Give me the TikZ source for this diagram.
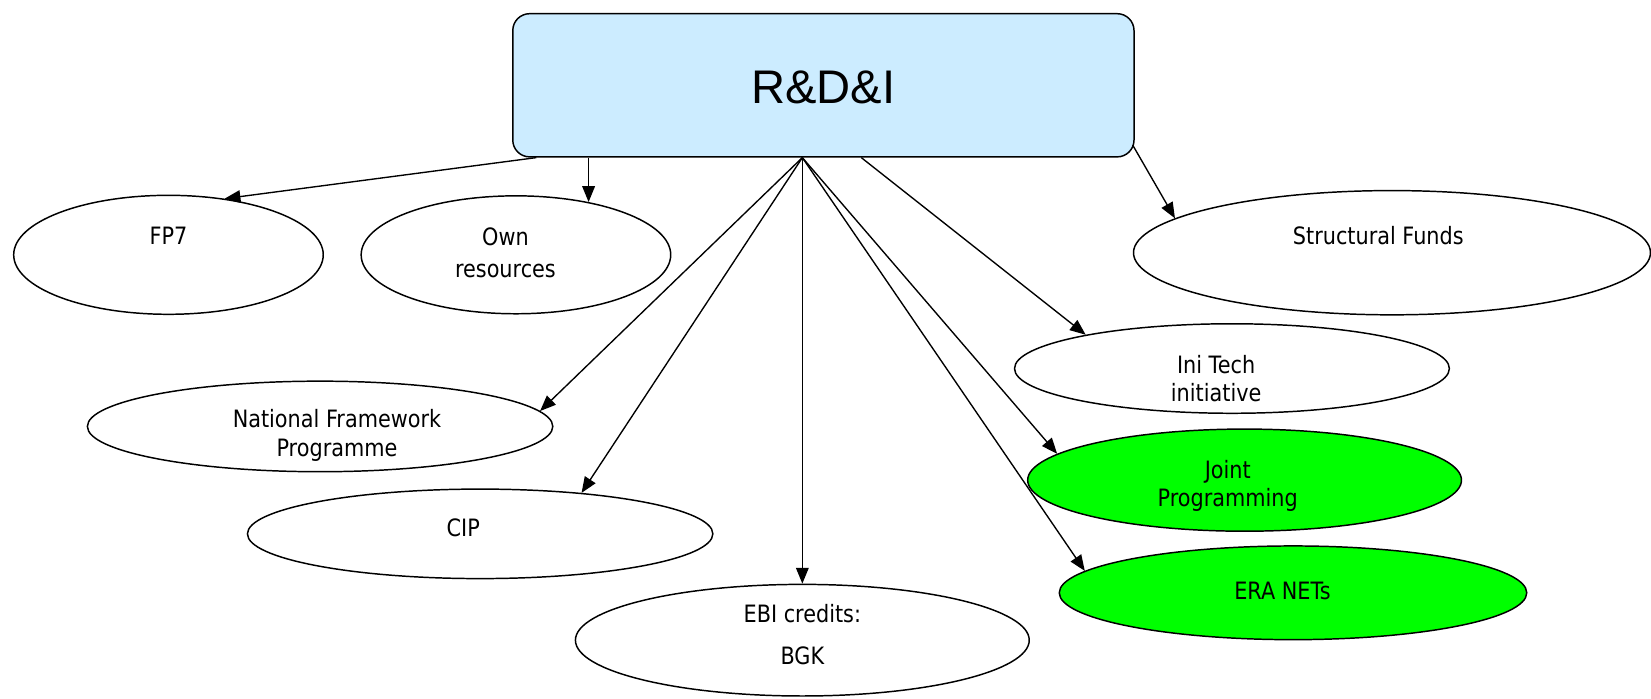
\documentclass[tikz,border=0pt]{standalone}
\usepackage{fontspec}
\usetikzlibrary{shapes.geometric,arrows.meta,calc}
\newfontfamily\tah{DejaVu Sans}[FakeStretch=0.87]
\newfontfamily\arl{Liberation Sans}
\definecolor{boxblue}{HTML}{CCECFF}
\definecolor{brightgreen}{HTML}{00FF00}
\begin{document}
\begin{tikzpicture}[x=1pt,y=-1pt,
  oval/.style={ellipse,draw=black,line width=1.4pt,inner sep=0pt,fill=white},
  greenoval/.style={oval,fill=brightgreen},
  lbl/.style={font=\tah\fontsize{22.7}{27}\selectfont,align=center,inner sep=0pt},
  arr/.style={-{Triangle[length=15pt,width=12pt]},line width=1.3pt}]
\useasboundingbox (0,0) rectangle (1568,663);
% main box
\node[draw,line width=1.4pt,rounded corners=16pt,fill=boxblue,minimum width=590pt,minimum height=136pt,inner sep=0pt] (rdi) at (782,81) {};
\node[font=\arl\fontsize{44.8}{50}\selectfont,inner sep=0pt] (rdit) at (782,83) {R\&D\&I};
% ellipses
\node[oval,minimum width=294pt,minimum height=113pt] (fp7) at (160,242) {};
\node[oval,minimum width=294pt,minimum height=112pt] (own) at (490,242) {};
\node[oval,minimum width=491pt,minimum height=118pt] (sf) at (1322,240) {};
\node[oval,minimum width=413pt,minimum height=85pt] (ini) at (1170,350) {};
\node[oval,minimum width=442pt,minimum height=86pt] (nfp) at (304,405) {};
\node[greenoval,minimum width=412pt,minimum height=97pt] (joint) at (1182,456) {};
\node[oval,minimum width=442pt,minimum height=85pt] (cip) at (456,507) {};
\node[greenoval,minimum width=444pt,minimum height=89pt] (era) at (1228,563) {};
\node[oval,minimum width=431pt,minimum height=106pt] (ebi) at (762,608) {};
% texts
\node[lbl] (fp7t) at (160,224) {FP7};
\node[lbl] (ownt) at (480,240) {Own\\[3pt]resources};
\node[lbl] (sft) at (1309,224) {Structural Funds};
\node[lbl] (init) at (1155,359.5) {Ini Tech\\initiative};
\node[lbl] (nfpt) at (320,413.5) {National Framework\\Programme};
\node[lbl] (jointt) at (1166,461.5) {Joint\\Programming};
\node[lbl] (cipt) at (440,501) {CIP};
\node[lbl] (erat) at (1218,561) {ERA NETs};
\node[lbl] (ebit) at (762,603) {EBI credits:\\[13pt]BGK};
% connector start points
\coordinate (hub) at ($(rdi.south)+(-20,0)$);
\coordinate (sfp) at ($(rdi.south west)+(23,0)$);
\coordinate (sown) at (own.36 |- rdi.south);
\coordinate (sini) at ($(rdi.south)+(36,0)$);
\coordinate (ssf) at ($(rdi.south east)+(-2,-12)$);
% connectors
\draw[arr] (sfp) -- (fp7.45);
\draw[arr] (sown) -- (own.36);
\draw[arr] (hub) -- (nfp.4);
\draw[arr] (hub) -- (cip.22);
\draw[arr] (hub) -- (ebi.north);
\draw[arr] (hub) -- (joint.172);
\draw[arr] (hub) -- (era.174);
\draw[arr] (sini) -- (ini.167);
\draw[arr] (ssf) -- (sf.171);
\end{tikzpicture}
\end{document}
